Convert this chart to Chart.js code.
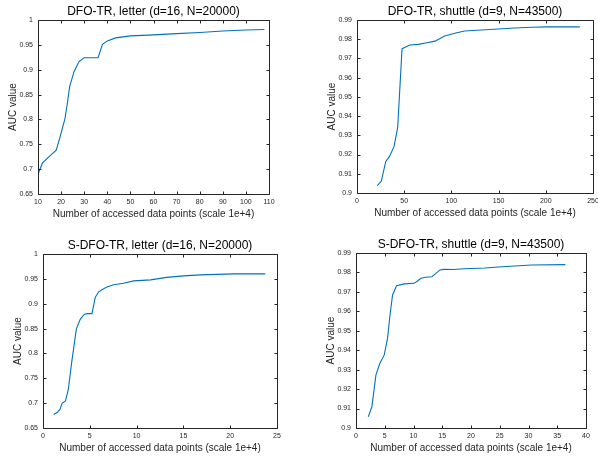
<!DOCTYPE html>
<html>
<head>
<meta charset="utf-8">
<script src="https://cdn.jsdelivr.net/npm/chart.js@4.4.1/dist/chart.umd.min.js"></script>
<style>
  html, body { margin: 0; padding: 0; background: #fff; overflow: hidden; width: 598px; height: 458px; position: relative; }
  canvas { position: absolute; }
</style>
</head>
<body>
<canvas id="c1"></canvas>
<canvas id="c2"></canvas>
<canvas id="c3"></canvas>
<canvas id="c4"></canvas>
<script>
// --- data ---
const letterX = [10, 11.9, 14.8, 17.9, 19.8, 21.7, 22.7, 23.7, 25.6, 27.7, 29.9, 36, 37.9, 40, 43.6, 50, 60, 70, 80, 90, 100, 108];
const letterY = [0.690, 0.712, 0.725, 0.738, 0.769, 0.802, 0.832, 0.866, 0.896, 0.916, 0.924, 0.924, 0.951, 0.958, 0.964, 0.968, 0.970, 0.9725, 0.975, 0.978, 0.980, 0.981];

const shuttleX = [21.5, 25.8, 30.4, 34.3, 39.2, 43.1, 47.7, 56, 65, 73.8, 82.6, 92.9, 103.5, 114, 131.7, 149.4, 167, 184.7, 202, 236];
const shuttleY = [0.9038, 0.9062, 0.9163, 0.9189, 0.9241, 0.9341, 0.9751, 0.977, 0.9773, 0.9782, 0.979, 0.9817, 0.9831, 0.9843, 0.9848, 0.9853, 0.9858, 0.9862, 0.9864, 0.9864];

const sLetterX = [1.14, 1.5, 1.8, 2.05, 2.39, 2.7, 3.05, 3.56, 3.99, 4.42, 4.77, 5.23, 5.59, 5.95, 6.3, 6.77, 7.55, 8.6, 9.7, 11.5, 13.2, 15, 16.8, 18.6, 20.4, 23.75];
const sLetterY = [0.677, 0.681, 0.687, 0.700, 0.704, 0.727, 0.780, 0.849, 0.869, 0.879, 0.880, 0.880, 0.913, 0.924, 0.928, 0.933, 0.938, 0.941, 0.946, 0.948, 0.953, 0.956, 0.958, 0.959, 0.960, 0.960];

const sShuttleX = [2.14, 2.77, 3.47, 4.16, 4.91, 5.49, 5.95, 6.36, 7.05, 8.4, 10.1, 10.7, 11.3, 12.1, 13.2, 13.9, 14.6, 15.3, 16.9, 18.9, 22.4, 24.7, 27.6, 30.5, 36.4];
const sShuttleY = [0.9058, 0.911, 0.9273, 0.9333, 0.9376, 0.9462, 0.959, 0.9684, 0.9732, 0.9741, 0.9744, 0.9756, 0.977, 0.9775, 0.9778, 0.9795, 0.9813, 0.9816, 0.9815, 0.9819, 0.9823, 0.9828, 0.9833, 0.9838, 0.984];

const titles = [
  'DFO-TR, letter (d=16, N=20000)',
  'DFO-TR, shuttle (d=9, N=43500)',
  'S-DFO-TR, letter (d=16, N=20000)',
  'S-DFO-TR, shuttle (d=9, N=43500)'
];
const xLabel = 'Number of accessed data points (scale 1e+4)';
const yLabel = 'AUC value';

const LINE = '#0072BD';
const AXIS = '#262626';
Chart.defaults.font.family = '"Liberation Sans", Arial, sans-serif';

// matlab-style box with inward ticks on all sides
const boxPlugin = {
  id: 'matlabBox',
  afterDraw(chart) {
    const { ctx, chartArea: a, scales: { x, y } } = chart;
    const tl = 3;
    ctx.save();
    ctx.strokeStyle = AXIS;
    ctx.lineWidth = 1;
    ctx.beginPath();
    const L = Math.round(a.left) + 0.5, R = Math.round(a.right) + 0.5;
    const T = Math.round(a.top) + 0.5, B = Math.round(a.bottom) + 0.5;
    ctx.rect(L, T, R - L, B - T);
    x.ticks.forEach((t, i) => {
      const px = Math.round(x.getPixelForTick(i)) + 0.5;
      ctx.moveTo(px, B); ctx.lineTo(px, B - tl);
      ctx.moveTo(px, T); ctx.lineTo(px, T + tl);
    });
    y.ticks.forEach((t, i) => {
      const py = Math.round(y.getPixelForTick(i)) + 0.5;
      ctx.moveTo(L, py); ctx.lineTo(L + tl, py);
      ctx.moveTo(R, py); ctx.lineTo(R - tl, py);
    });
    ctx.stroke();
    ctx.restore();
  }
};

const fmt = v => String(Number(v.toFixed(4)));

function makeChart(id, pos, xs, ys, title, xr, yr) {
  const cv = document.getElementById(id);
  cv.width = pos.w; cv.height = pos.h;
  cv.style.left = pos.left + 'px';
  cv.style.top = pos.top + 'px';
  new Chart(cv, {
    type: 'line',
    data: {
      datasets: [{
        data: xs.map((v, i) => ({ x: v, y: ys[i] })),
        borderColor: LINE,
        borderWidth: 1.1,
        pointRadius: 0,
        fill: false,
        tension: 0
      }]
    },
    options: {
      responsive: false,
      animation: false,
      devicePixelRatio: 1,
      layout: { padding: { left: 0, right: 15, top: 0, bottom: 0 } },
      plugins: {
        legend: { display: false },
        tooltip: { enabled: false },
        title: {
          display: true,
          text: title,
          fullSize: false,
          color: '#000',
          font: { size: 12, weight: 'normal' },
          padding: { top: 4.5, bottom: 1.1 }
        }
      },
      scales: {
        x: {
          type: 'linear',
          min: xr[0], max: xr[1],
          grid: { display: false, drawTicks: false },
          border: { display: false },
          ticks: { stepSize: xr[2], color: AXIS, font: { size: 7 }, padding: 4, maxRotation: 0, callback: fmt },
          title: { display: true, text: xLabel, color: AXIS, font: { size: 10 }, padding: { top: 0, bottom: 9 } },
          afterFit: s => { s.height = 35; }
        },
        y: {
          min: yr[0], max: yr[1],
          grid: { display: false, drawTicks: false },
          border: { display: false },
          ticks: { stepSize: yr[2], color: AXIS, font: { size: 7 }, padding: 5, callback: fmt },
          title: { display: true, text: yLabel, color: AXIS, font: { size: 10 }, padding: { top: 0, bottom: 0 } },
          afterFit: s => { s.width = 31; }
        }
      }
    },
    plugins: [boxPlugin]
  });
}

makeChart('c1', { left: 7, top: 0, w: 277, h: 229 }, letterX, letterY, titles[0], [10, 110, 10], [0.65, 1, 0.05]);
makeChart('c2', { left: 326, top: 0, w: 282, h: 228 }, shuttleX, shuttleY, titles[1], [0, 250, 50], [0.9, 0.99, 0.01]);
makeChart('c3', { left: 12, top: 234, w: 280, h: 229 }, sLetterX, sLetterY, titles[2], [0, 25, 5], [0.65, 1, 0.05]);
makeChart('c4', { left: 325, top: 233, w: 276, h: 230 }, sShuttleX, sShuttleY, titles[3], [0, 40, 5], [0.9, 0.99, 0.01]);
</script>
</body>
</html>
